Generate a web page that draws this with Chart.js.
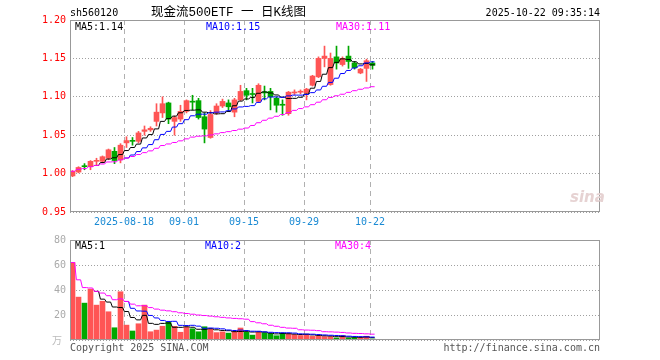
<!DOCTYPE html>
<html><head><meta charset="utf-8">
<script src="https://cdn.jsdelivr.net/npm/chart.js@4.4.1/dist/chart.umd.min.js"></script>
<style>
html,body{margin:0;padding:0;background:#fff;}
#wrap{position:relative;width:660px;height:360px;overflow:hidden;background:#fff;}
canvas{position:absolute;left:0;}
.t{position:absolute;font-family:'DejaVu Sans Mono',monospace;font-size:10px;line-height:12px;white-space:pre;}
</style></head><body>
<div id="wrap">
<canvas id="kc" width="660" height="230" style="top:0px"></canvas>
<canvas id="vc" width="660" height="130" style="top:230px"></canvas>
<div class="t" id="code" style="left:70px;top:7px;color:#000"></div>
<div class="t" id="title" style="left:151px;top:5px;font-family:'Liberation Mono','Noto Sans CJK SC',monospace;font-size:12.5px;line-height:16px;color:#000"></div>
<div class="t" id="stamp" style="right:60px;top:7px;color:#000"></div>
<div class="t" id="lg1" style="left:75px;top:21px;color:#000"></div>
<div class="t" id="lg2" style="left:206px;top:21px;color:#0000ff"></div>
<div class="t" id="lg3" style="left:336px;top:21px;color:#ff00ff"></div>
<div class="t" id="vl1" style="left:75px;top:240px;color:#000"></div>
<div class="t" id="vl2" style="left:205px;top:240px;color:#0000ff"></div>
<div class="t" id="vl3" style="left:335px;top:240px;color:#ff00ff"></div>
<div class="t" id="unit" style="left:52px;top:334px;color:#bbb;font-family:'Noto Sans CJK SC',sans-serif;"></div>
<div class="t" id="copy" style="left:70px;top:342px;color:#555"></div>
<div class="t" id="url" style="right:60px;top:342px;color:#555"></div>
<div class="t" id="logo" style="left:570px;top:188px;color:#e6d2d2;font-family:'DejaVu Sans',sans-serif;font-size:15px;font-style:italic;font-weight:bold;line-height:18px"></div>
</div>
<script>
// ---- data ----
const dates = ['08-05','08-06','08-07','08-08','08-11','08-12','08-13','08-14','08-15','08-18',
  '08-19','08-20','08-21','08-22','08-25','08-26','08-27','08-28','08-29','09-01',
  '09-02','09-03','09-04','09-05','09-08','09-09','09-10','09-11','09-12','09-15',
  '09-16','09-17','09-18','09-19','09-22','09-23','09-24','09-25','09-26','09-29',
  '09-30','10-09','10-10','10-13','10-14','10-15','10-16','10-17','10-20','10-21','10-22'];
const openP  = [0.997,1.002,1.010,1.009,1.016,1.016,1.020,1.029,1.018,1.040,
  1.043,1.042,1.055,1.057,1.068,1.079,1.092,1.068,1.071,1.081,
  1.094,1.095,1.074,1.047,1.079,1.088,1.092,1.080,1.096,1.108,
  1.104,1.094,1.106,1.107,1.098,1.090,1.078,1.105,1.106,1.105,
  1.115,1.126,1.150,1.116,1.152,1.142,1.153,1.144,1.131,1.137,1.144];
const highP  = [1.004,1.009,1.013,1.017,1.020,1.023,1.032,1.034,1.039,1.048,
  1.047,1.055,1.062,1.061,1.091,1.100,1.093,1.075,1.089,1.096,
  1.102,1.098,1.079,1.082,1.091,1.097,1.096,1.098,1.115,1.111,
  1.111,1.117,1.114,1.111,1.100,1.096,1.107,1.109,1.109,1.111,
  1.128,1.152,1.166,1.157,1.166,1.152,1.166,1.146,1.137,1.149,1.146];
const lowP   = [0.996,1.001,1.005,1.005,1.011,1.014,1.018,1.013,1.014,1.034,
  1.037,1.040,1.050,1.055,1.062,1.073,1.065,1.050,1.068,1.079,
  1.083,1.071,1.040,1.046,1.077,1.086,1.081,1.074,1.095,1.096,
  1.092,1.093,1.096,1.083,1.080,1.076,1.076,1.103,1.104,1.096,
  1.114,1.125,1.139,1.115,1.136,1.140,1.137,1.136,1.130,1.120,1.136];
const closeP = [1.003,1.008,1.009,1.016,1.017,1.022,1.031,1.017,1.037,1.043,
  1.042,1.053,1.057,1.059,1.080,1.091,1.071,1.073,1.081,1.095,
  1.093,1.073,1.058,1.077,1.088,1.094,1.087,1.096,1.107,1.102,
  1.103,1.115,1.105,1.100,1.089,1.089,1.106,1.106,1.107,1.110,
  1.127,1.150,1.153,1.150,1.144,1.150,1.146,1.138,1.136,1.147,1.141];
const volume = [62,34.3,29.5,40.7,27.9,31.0,22.6,9.8,38.6,11.9,
  7.2,13.0,27.9,6.6,7.9,11.0,14.6,10.9,6.2,10.3,
  9.0,6.6,10.6,8.7,5.9,6.5,5.5,6.8,9.6,6.2,
  3.9,6.2,5.8,5.2,3.4,5.5,5.2,4.3,3.6,4.4,
  2.9,3.3,2.7,2.7,1.6,3.5,1.6,2.0,2.0,3.0,0.8];
const dateTickDays   = ['08-18','09-01','09-15','09-29','10-22'];
const dateTickLabels = ['2025-08-18','09-01','09-15','09-29','10-22'];
const priceTicks = [0.95,1.00,1.05,1.10,1.15,1.20];
const volTicks = [0,20,40,60,80];
const priceLegend = ['MA5:1.14','MA10:1.15','MA30:1.11'];
const volLegend = ['MA5:1','MA10:2','MA30:4'];

// ---- texts ----
const T = (id, s) => document.getElementById(id).textContent = s;
T('code','sh560120'); T('title','现金流500ETF 一 日K线图'); T('stamp','2025-10-22 09:35:14');
T('lg1',priceLegend[0]); T('lg2',priceLegend[1]); T('lg3',priceLegend[2]);
T('vl1',volLegend[0]); T('vl2',volLegend[1]); T('vl3',volLegend[2]);
T('unit','万'); T('copy','Copyright 2025 SINA.COM'); T('url','http://finance.sina.com.cn'); T('logo','sina');

// ---- helpers ----
const RED = '#ff5555', GREEN = '#00a800';
const X_MIN = -5/12, X_MAX = X_MIN + 530/6;
const tickIdx = dateTickDays.map(d => dates.indexOf(d));
const isUp = closeP.map((c,i) => c >= openP[i]);
const colors = isUp.map(u => u ? RED : GREEN);
// moving average of the read values (cumulative mean before enough points when fromStart)
function movingAverage(src, n, fromStart) {
  return src.map((_, i) => {
    if (i < n - 1 && !fromStart) return null;
    const s = src.slice(Math.max(0, i - n + 1), i + 1);
    return s.reduce((a, b) => a + b, 0) / s.length;
  });
}
// each average is drawn as a short flat step across its candle
function stepPoints(ma) {
  const pts = [];
  ma.forEach((v, i) => { if (v !== null) { pts.push({x: i - 0.35, y: v}); pts.push({x: i + 0.35, y: v}); } });
  return pts;
}
const monoFont = {family: 'DejaVu Sans Mono', size: 10};
function xScale(showTicks) {
  return {
    type: 'linear', min: X_MIN, max: X_MAX, offset: false,
    afterBuildTicks: s => { s.ticks = tickIdx.map(i => ({value: i - 5/12})); },
    afterFit: s => { s.height = showTicks ? 18 : 0; },
    grid: {offset: false, color: '#b0b0b0', lineWidth: 1, drawTicks: false},
    border: {display: false, dash: [5, 4]},
    ticks: {display: showTicks, autoSkip: false, maxRotation: 0, minRotation: 0, padding: 4,
      color: '#1a8ad4', font: monoFont, callback: (v, i) => dateTickLabels[i]}
  };
}
const framePlugin = {
  id: 'frame',
  afterDraw(chart) {
    const {ctx, chartArea: a} = chart;
    ctx.save(); ctx.strokeStyle = '#999'; ctx.lineWidth = 1;
    ctx.strokeRect(a.left + 0.5, a.top + 0.5, a.right - a.left - 1, a.bottom - a.top - 1);
    ctx.restore();
  }
};
const lineDs = (data, color) => ({type: 'line', data, borderColor: color, borderWidth: 1, pointRadius: 0,
  tension: 0, fill: false, order: 0, spanGaps: false});

// ---- price (candles) ----
const pMA5 = movingAverage(closeP, 5, false), pMA10 = movingAverage(closeP, 10, false), pMA30 = movingAverage(closeP, 30, true);
new Chart(document.getElementById('kc'), {
  type: 'bar',
  data: {datasets: [
    {data: dates.map((d,i) => ({x: i, y: [lowP[i], highP[i]]})), backgroundColor: colors, barThickness: 1, grouped: false, order: 2, borderWidth: 0},
    {data: dates.map((d,i) => ({x: i, y: [openP[i], closeP[i]]})), backgroundColor: colors, barThickness: 5, grouped: false, order: 1, borderWidth: 0, minBarLength: 1},
    lineDs(stepPoints(pMA30), '#ff00ff'),
    lineDs(stepPoints(pMA10), '#0000ff'),
    lineDs(stepPoints(pMA5), '#000000')
  ]},
  options: {
    responsive: false, animation: false, devicePixelRatio: 1,
    layout: {padding: {top: 20, right: 60, left: 0, bottom: 0}},
    plugins: {legend: {display: false}, tooltip: {enabled: false}, title: {display: false}},
    scales: {
      x: xScale(true),
      y: {type: 'linear', min: 0.95, max: 1.20, position: 'left',
        afterBuildTicks: s => { s.ticks = priceTicks.map(v => ({value: v})); },
        afterFit: s => { s.width = 70; },
        grid: {color: '#a0a0a0', drawTicks: false},
        border: {display: false, dash: [1, 2]},
        ticks: {color: '#ff0000', padding: 4, font: monoFont, callback: v => Number(v).toFixed(2)}}
    }
  },
  plugins: [framePlugin]
});

// ---- volume ----
const vMA5 = movingAverage(volume, 5, false), vMA10 = movingAverage(volume, 10, false), vMA30 = movingAverage(volume, 30, true);
new Chart(document.getElementById('vc'), {
  type: 'bar',
  data: {datasets: [
    {data: dates.map((d,i) => ({x: i, y: volume[i]})), backgroundColor: colors, barThickness: 5, grouped: false, order: 1, borderWidth: 0},
    lineDs(stepPoints(vMA30), '#ff00ff'),
    lineDs(stepPoints(vMA10), '#0000ff'),
    lineDs(stepPoints(vMA5), '#000000')
  ]},
  options: {
    responsive: false, animation: false, devicePixelRatio: 1,
    layout: {padding: {top: 10, right: 60, left: 0, bottom: 20}},
    plugins: {legend: {display: false}, tooltip: {enabled: false}, title: {display: false}},
    scales: {
      x: xScale(false),
      y: {type: 'linear', min: 0, max: 80, position: 'left',
        afterBuildTicks: s => { s.ticks = volTicks.map(v => ({value: v})); },
        afterFit: s => { s.width = 70; },
        grid: {color: '#a0a0a0', drawTicks: false},
        border: {display: false, dash: [1, 2]},
        ticks: {color: '#aaaaaa', padding: 4, font: monoFont, callback: v => v === 0 ? '' : String(v)}}
    }
  },
  plugins: [framePlugin]
});
</script>
</body></html>
